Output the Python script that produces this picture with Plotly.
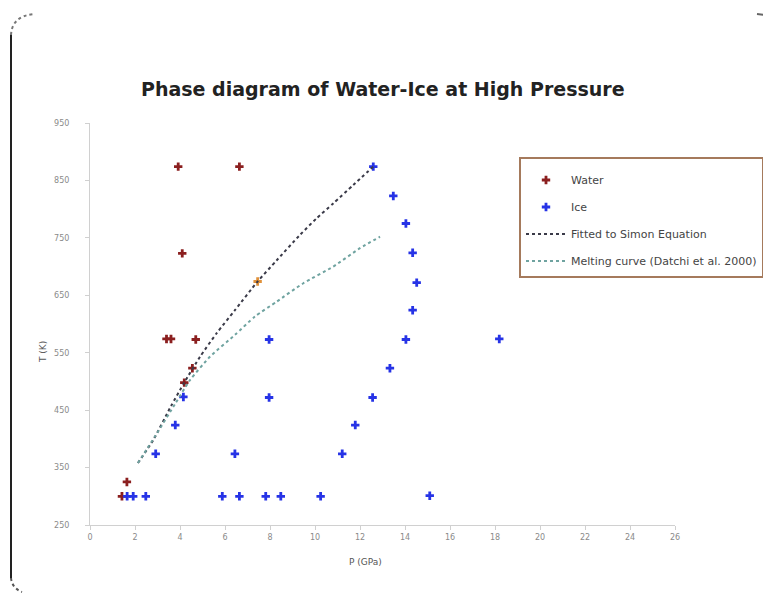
import plotly.graph_objects as go

# ---------------- data ----------------
water_p = [3.92, 6.64, 4.10, 3.40, 3.60, 4.70, 4.55, 4.19, 1.64, 1.42, 7.45]
water_t = [874, 874, 723, 574, 574, 573, 523, 498, 325, 300, 674]
water_colors = ["#8b1f1f"] * 10 + ["#e0913a"]

ice_p = [12.59, 13.48, 14.04, 14.34, 14.52, 14.34, 14.04, 13.33, 12.56, 11.79, 11.21,
         7.96, 7.96, 4.15, 3.79, 2.92, 6.44,
         1.65, 1.92, 2.48, 5.88, 6.64, 7.81, 8.48, 10.25, 15.10, 18.19]
ice_t = [874, 823, 775, 724, 672, 624, 573, 523, 472, 424, 374,
         573, 472, 473, 424, 374, 374,
         300, 300, 300, 300, 300, 300, 300, 300, 301, 574]

simon_p = [2.13, 2.81, 3.60, 4.19, 4.89, 5.63, 6.44, 7.45, 8.30, 9.33, 10.07, 10.81, 11.70, 12.59]
simon_t = [358, 398, 457, 498, 543, 584, 624, 674, 711, 755, 784, 810, 842, 874]

datchi_p = [2.13, 2.90, 3.80, 4.44, 5.33, 6.44, 7.33, 8.30, 9.48, 10.81, 12.00, 12.89]
datchi_t = [358, 405, 462, 502, 543, 581, 613, 639, 671, 700, 732, 752]

x_ticks = list(range(0, 27, 2))
y_ticks = list(range(250, 951, 100))

title_text = "Phase diagram of Water-Ice at High Pressure"
x_title = "P (GPa)"
y_title = "T (K)"

# ---------------- layout geometry ----------------
W, H = 771, 593
OFF = 8                          # page body margin
L, R, T, B = 90, 675, 123, 525   # plot area in screen pixels


def px(xp):
    return (xp - L) / (R - L)


def py(yp):
    return (B - yp) / (B - T)


fig = go.Figure()

fig.add_trace(go.Scatter(
    x=water_p, y=water_t, mode="markers", name="Water",
    marker=dict(symbol="cross", size=7, color=water_colors, line=dict(width=0)),
    legendgroup="a",
))
fig.add_trace(go.Scatter(
    x=ice_p, y=ice_t, mode="markers", name="Ice",
    marker=dict(symbol="cross", size=7, color="#2633e6", line=dict(width=0)),
    legendgroup="b",
))
fig.add_trace(go.Scatter(
    x=simon_p, y=simon_t, mode="lines", name="Fitted to Simon Equation",
    line=dict(color="#3a3a48", width=2, dash="dot", shape="spline", smoothing=0.6),
    legendgroup="c",
))
fig.add_trace(go.Scatter(
    x=datchi_p, y=datchi_t, mode="lines", name="Melting curve (Datchi et al. 2000)",
    line=dict(color="#6fa3a0", width=2, dash="dot", shape="spline", smoothing=0.6),
    legendgroup="d",
))

axis_common = dict(
    showgrid=False, zeroline=False, showline=True, linecolor="#d0d0d0", linewidth=1,
    ticks="outside", ticklen=4, tickcolor="#d0d0d0",
    tickfont=dict(family="DejaVu Sans", size=8, color="#8a8a8a"),
)

fig.update_layout(
    width=W, height=H,
    margin=dict(l=L - OFF, r=W - R + OFF, t=T - OFF, b=H - B + OFF),
    paper_bgcolor="white", plot_bgcolor="white",
    showlegend=True,
    legend=dict(
        x=px(519), y=py(157), xanchor="left", yanchor="top",
        bgcolor="white", bordercolor="#a57a5c", borderwidth=2,
        font=dict(family="DejaVu Sans", size=11, color="#444"),
        traceorder="grouped", tracegroupgap=8, itemwidth=40,
        title=dict(text=" ", font=dict(size=5)),
    ),
    xaxis=dict(range=[0, 26], tickvals=x_ticks, **axis_common),
    yaxis=dict(range=[250, 950], tickvals=y_ticks, ticklabelstandoff=14, **axis_common),
    annotations=[
        dict(text="<b>" + title_text + "</b>", xref="paper", yref="paper",
             x=px(383), y=py(89), showarrow=False, xanchor="center", yanchor="middle",
             font=dict(family="DejaVu Sans", size=19, color="#222")),
        dict(text=x_title, xref="paper", yref="paper", x=px(365), y=py(562),
             showarrow=False, xanchor="center", yanchor="middle",
             font=dict(family="DejaVu Sans", size=9, color="#555")),
        dict(text=y_title, xref="paper", yref="paper", x=px(43), y=py(352),
             showarrow=False, xanchor="center", yanchor="middle", textangle=-90,
             font=dict(family="DejaVu Sans", size=9, color="#555")),
    ],
    shapes=[
        dict(type="line", xref="paper", yref="paper",
             x0=px(11), x1=px(11), y0=py(578), y1=py(35),
             line=dict(color="#222", width=2)),
        dict(type="path", xref="paper", yref="paper",
             path=f"M {px(11)},{py(35)} Q {px(12)},{py(16)} {px(34)},{py(14)}",
             line=dict(color="#777", width=2, dash="dot")),
        dict(type="path", xref="paper", yref="paper",
             path=f"M {px(11)},{py(578)} Q {px(12)},{py(588)} {px(22)},{py(592)}",
             line=dict(color="#555", width=2, dash="dot")),
        dict(type="line", xref="paper", yref="paper",
             x0=px(757), x1=px(766), y0=py(14), y1=py(15),
             line=dict(color="#666", width=2)),
    ],
)

fig.write_html("out.html")
